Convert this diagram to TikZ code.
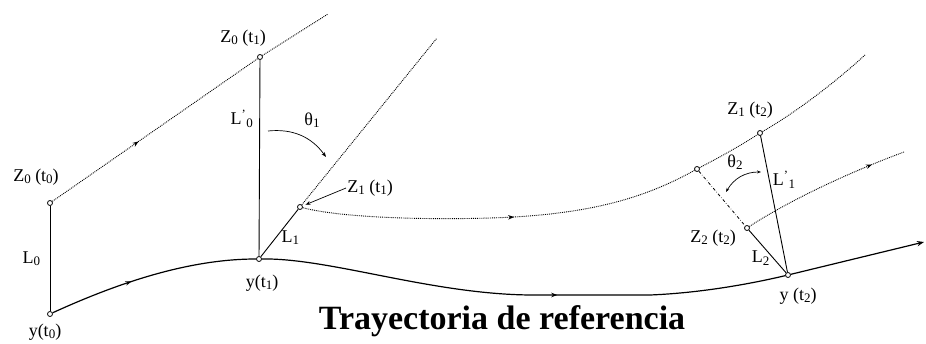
\documentclass[tikz,border=0pt]{standalone}
\usepackage{fontspec}
\setmainfont{Liberation Serif}
\usetikzlibrary{arrows.meta, positioning, decorations.markings}
\newcommand\lsub[1]{\raisebox{-0.3ex}{\fontsize{13}{13}\selectfont #1}}

\begin{document}
\begin{tikzpicture}[
    x=1pt, y=-1pt,
    every node/.style={font=\fontsize{18}{20}\selectfont},
    pt/.style={circle, draw, fill=white, inner sep=0pt, minimum size=5pt, line width=0.8pt},
    lbl/.style={inner sep=1pt},
    traj/.style={line width=1.2pt},
    orbit/.style={densely dotted, line width=0.9pt},
    axisline/.style={dash dot, line width=0.8pt},
    seg/.style={line width=0.9pt},
    midarr/.style={postaction={decorate}, decoration={markings,
        mark=at position #1 with {\arrow{Stealth[length=6pt]}}}},
    arr/.style={-{Stealth[length=5pt]}, line width=0.7pt},
]
\useasboundingbox (0,0) rectangle (926,344);

% ── Points ──
\node[pt] (y0)  at (50,314)  {};
\node[pt] (z00) at (50,203)  {};
\node[pt] (y1)  at (259,259) {};
\node[pt] (z01) at (260,57)  {};
\node[pt] (z11) at (300,207) {};
\node[pt] (p1)  at (697,169) {};
\node[pt] (z12) at (760,133) {};
\node[pt] (z22) at (747,228) {};
\node[pt] (y2)  at (788,275) {};

% ── Free ends ──
\coordinate (e0) at (328,14);
\coordinate (e1) at (437,38);
\coordinate (e2) at (865,55);
\coordinate (e3) at (904,152);
\coordinate (e4) at (924,242);

% ── Reference trajectory ──
\draw[traj, midarr=0.4] (y0) .. controls (120,282) and (190,259) .. (y1);
\draw[traj, midarr=0.565] (y1) .. controls (330,258) and (430,294) .. (530,295)
    -- (650,295) .. controls (700,293) and (750,284) .. (y2);
\draw[traj, -{Stealth[length=7pt]}] (y2) -- (e4);

% ── Dotted paths ──
\draw[orbit, midarr=0.42] (z00) -- (z01);
\draw[orbit] (z01) -- (e0);
\draw[orbit] (z11) -- (e1);
\draw[orbit, midarr=0.53] (z11) .. controls (350,220) and (460,220) .. (514,217)
    .. controls (600,212) and (650,195) .. (p1);
\draw[orbit] (p1) .. controls (720,157) and (740,146) .. (z12);
\draw[orbit] (z12) .. controls (800,110) and (840,78) .. (e2);
\draw[orbit, midarr=0.8] (z22) .. controls (790,200) and (850,172) .. (e3);

% ── Distances ──
\draw[seg] (y0) -- node[left=6pt] {L\lsub{0}} (z00);
\draw[seg] (y1) -- node[pos=0.7, left=3pt] {L\textsuperscript{'}\lsub{0}} (z01);
\draw[seg] (y1) -- node[pos=0.4, right=2pt] {L\lsub{1}} (z11);
\draw[axisline] (p1) -- (z22);
\draw[seg] (z22) -- node[pos=0.65, left=0pt] {L\lsub{2}} (y2);
\draw[seg] (z12) -- node[pos=0.32, right=0pt] {L\textsuperscript{'}\lsub{1}} (y2);

% ── Angles ──
\coordinate (a1) at (268,131);
\coordinate (a2) at (326,157);
\draw[arr] (a1) to[bend left=30] (a2);
\node[lbl] (th1) at (312,120) {θ\lsub{1}};
\coordinate (b1) at (726,192);
\coordinate (b2) at (761,172);
\draw[{Stealth[length=4pt]}-{Stealth[length=4pt]}, line width=0.7pt] (b1) to[bend left=30] (b2);
\node[lbl] (th2) at (735,162) {θ\lsub{2}};

% ── Labels ──
\node[lbl] (lz00) at (36,177) {Z\lsub{0} (t\lsub{0})};
\node[lbl] (lz01) at (243,38) {Z\lsub{0} (t\lsub{1})};
\node[lbl] (lz11) at (370,188) {Z\lsub{1} (t\lsub{1})};
\draw[arr, shorten >=3pt] (lz11.west) -- (z11);
\node[lbl] (lz12) at (750,110) {Z\lsub{1} (t\lsub{2})};
\node[lbl] (lz22) at (713,238) {Z\lsub{2} (t\lsub{2})};
\node[lbl] (ly0) at (45,332) {y(t\lsub{0})};
\node[lbl] (ly1) at (262,283) {y(t\lsub{1})};
\node[lbl] (ly2) at (798,296) {y (t\lsub{2})};

% ── Title ──
\node (title) at (502,321) {\fontsize{34}{38}\selectfont\bfseries Trayectoria de referencia};

\end{tikzpicture}
\end{document}
